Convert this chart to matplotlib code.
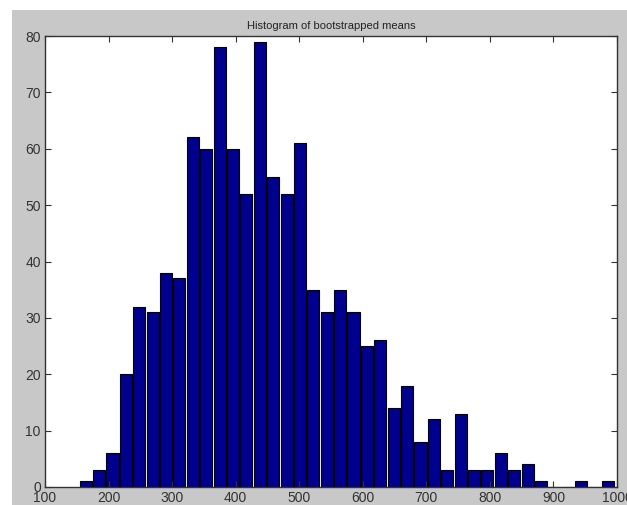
import matplotlib
matplotlib.use("Agg")
import matplotlib.pyplot as plt
from matplotlib.patches import Rectangle
import numpy as np

plt.rcParams['font.family'] = ['Liberation Sans', 'DejaVu Sans']

# bootstrapped means: 40 equal bins between the smallest and largest mean
counts = [1, 3, 6, 20, 32, 31, 38, 37, 62, 60,
          78, 60, 52, 79, 55, 52, 61, 35, 31, 35,
          31, 25, 26, 14, 18, 8, 12, 3, 13, 3,
          3, 6, 3, 4, 1, 0, 0, 1, 0, 1]
mean_min = 153.5
mean_max = 996.3
x_ticks = [100, 200, 300, 400, 500, 600, 700, 800, 900, 1000]
y_ticks = [0, 10, 20, 30, 40, 50, 60, 70, 80]

edges = np.linspace(mean_min, mean_max, len(counts) + 1)
centers = (edges[:-1] + edges[1:]) / 2
binw = edges[1] - edges[0]

fig = plt.figure(figsize=(6.27, 5.05), dpi=100)
fig.patch.set_facecolor('white')
# grey window background, offset a little from the top-left corner
fig.patches.append(Rectangle((12 / 627, 0), 1, 1 - 10 / 505,
                             transform=fig.transFigure, facecolor='#c8c8c8',
                             edgecolor='none', zorder=-10))

ax = fig.add_axes([45 / 627, 1 - 487 / 505, 572 / 627, 451 / 505])
ax.bar(centers, counts, width=binw * 0.9, color='#00008f',
       edgecolor='black', linewidth=0.8)

ax.set_xlim(100, 1000)
ax.set_ylim(0, 80)
ax.set_xticks(x_ticks)
ax.set_yticks(y_ticks)
ax.tick_params(direction='in', top=True, right=True, length=4,
               labelsize=10, colors='#333333', pad=3)
for s in ax.spines.values():
    s.set_color('#333333')
    s.set_linewidth(1.0)

ax.set_title('Histogram of bootstrapped means', fontsize=8, color='#222222', pad=5)

fig.savefig('out.png', dpi=100)
